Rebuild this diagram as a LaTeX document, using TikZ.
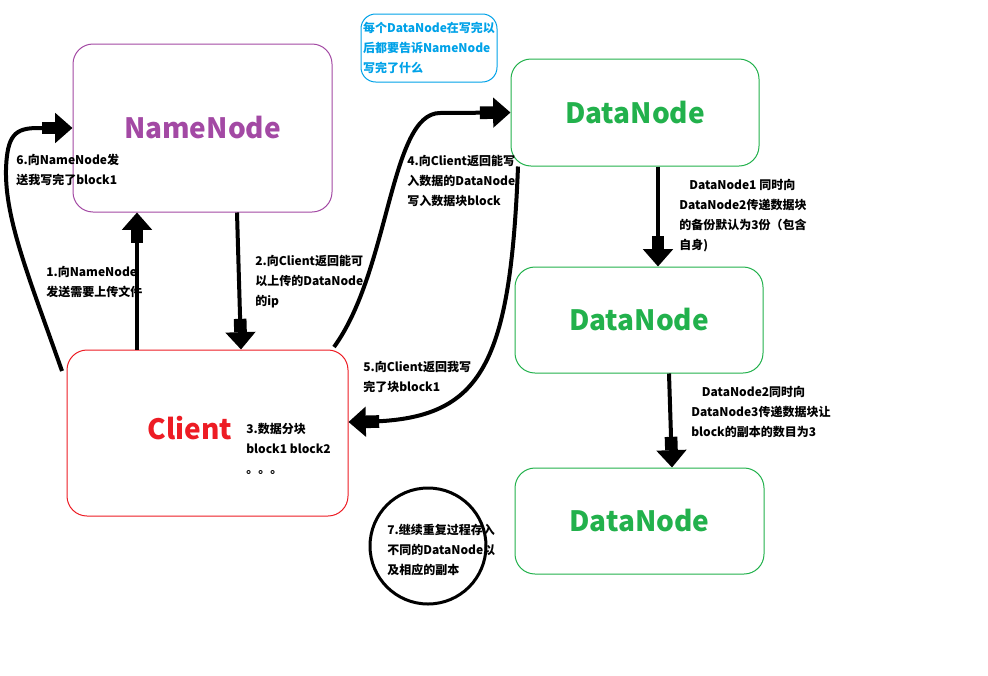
\documentclass[tikz,border=0pt]{standalone}
\usepackage{fontspec}
\setmainfont{Noto Sans CJK SC}
\usetikzlibrary{arrows.meta}
\definecolor{nnpurple}{HTML}{A349A4}
\definecolor{clred}{HTML}{ED1C24}
\definecolor{dngreen}{HTML}{22B14C}
\definecolor{noteblue}{HTML}{00A2E8}
\begin{document}
\begin{tikzpicture}[x=0.75pt,y=-0.75pt,
 box/.style={draw, rounded corners=15pt, line width=0.75pt, inner sep=0pt},
 title/.style={font=\fontsize{21}{25}\selectfont\bfseries},
 lbl/.style={font=\fontsize{9}{15}\selectfont\bfseries, align=left, inner sep=0pt, anchor=north west},
 blk/.style={line width=3pt, -{Rectangle[length=10pt,width=9.5pt]Triangle[length=13pt,width=22pt]}}
]
\useasboundingbox (0,0) rectangle (988,675);
\fill[white] (0,0) rectangle (988,675);

% boxes
\node[box, draw=nnpurple, minimum width=194.25pt, minimum height=126pt, text=nnpurple, title] (nn) at (202.5,128) {NameNode};
\node[box, draw=clred, minimum width=210.75pt, minimum height=124.5pt] (cl) at (207.5,433) {};
\node[title, text=clred] (cltxt) at (190,428) {Client};
\node[box, draw=dngreen, minimum width=186pt, minimum height=80.25pt, text=dngreen, title] (dn1) at (635,112.5) {DataNode};
\node[box, draw=dngreen, minimum width=186pt, minimum height=79.5pt, text=dngreen, title] (dn2) at (639,320) {DataNode};
\node[box, draw=dngreen, minimum width=186.75pt, minimum height=79.5pt, text=dngreen, title] (dn3) at (639.5,521) {DataNode};
\node[box, draw=noteblue, rounded corners=11pt, minimum width=102pt, minimum height=51pt, text=noteblue,
      font=\fontsize{9}{15}\selectfont\bfseries, align=left] (note) at (429,48) {每个DataNode在写完以\\后都要告诉NameNode\\写完了什么};
\node[circle, draw, line width=2.25pt, minimum size=87pt, inner sep=0pt] (circ) at (428,546) {};

% helper coordinates
\coordinate (x1) at (137,0);
\coordinate (x2a) at (237,0);
\coordinate (x2b) at (241,0);
\coordinate (x3) at (658,0);
\coordinate (x4a) at (669,0);
\coordinate (x4b) at (672,0);
\coordinate (x5) at (518,0);
\coordinate (y5) at (0,422);
\coordinate (s4) at (334,347);
\coordinate (s6) at (62,371);

% connectors
\draw[blk] (cl.north -| x1) -- (nn.south -| x1);
\draw[blk] (nn.south -| x2a) -- (cl.north -| x2b);
\draw[blk] (dn1.south -| x3) -- (dn2.north -| x3);
\draw[blk] (dn2.south -| x4a) -- (dn3.north -| x4b);
\draw[blk] (s4) .. controls (390,270) and (390,113) .. (440,113) -- (dn1.west);
\draw[blk] (dn1.south -| x5) .. controls (510,370) and (480,420) .. (cl.east |- y5);
\draw[blk] (s6) .. controls (30,280) and (5,220) .. (6,170) .. controls (7,135) and (15,128) .. (38,128) -- (nn.west);

% labels
\node[lbl] (t6) at (16,154) {6.向NameNode发\\送我写完了block1};
\node[lbl] (t1) at (46,266) {1.向NameNode\\发送需要上传文件};
\node[lbl] (t2) at (255,255) {2.向Client返回能可\\以上传的DataNode\\的ip};
\node[lbl] (t4) at (407,155) {4.向Client返回能写\\入数据的DataNode\\写入数据块block};
\node[lbl] (t5) at (363,361) {5.向Client返回我写\\完了块block1};
\node[lbl] (t3) at (246,423) {3.数据分块\\block1 block2\\。。。};
\node[lbl] (td1) at (679,179) {\hspace*{7.5pt}DataNode1 同时向\\DataNode2传递数据块\\的备份默认为3份（包含\\自身)};
\node[lbl] (td2) at (691,386) {\hspace*{8pt}DataNode2同时向\\DataNode3传递数据块让\\block的副本的数目为3};
\node[lbl] (t7) at (387,524) {7.继续重复过程存入\\不同的DataNode以\\及相应的副本};
\end{tikzpicture}
\end{document}
